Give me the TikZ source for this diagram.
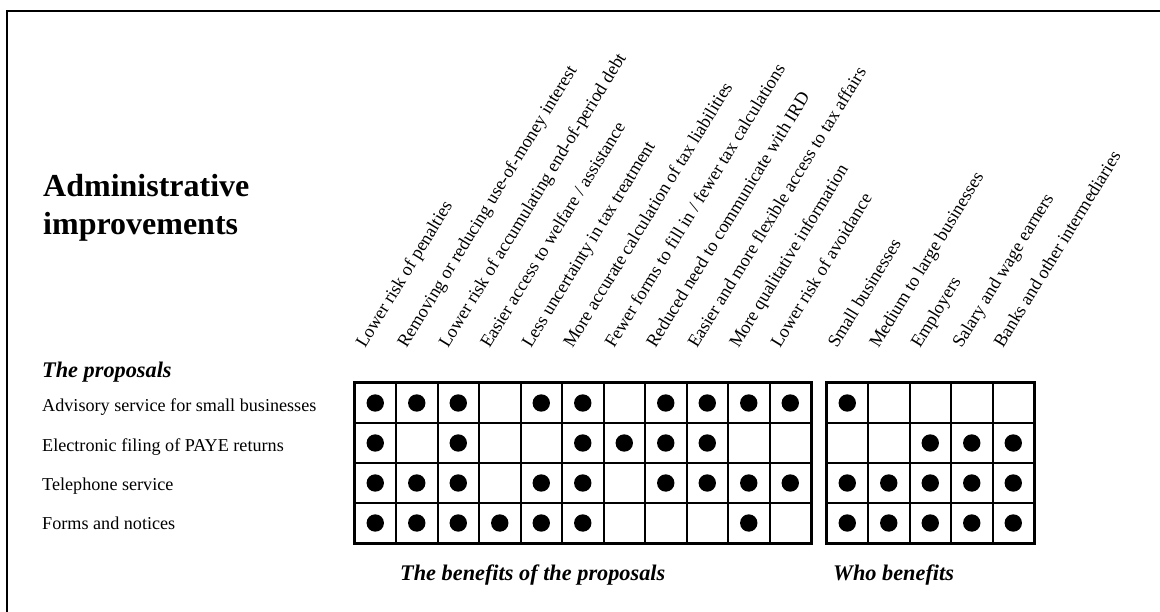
\documentclass[tikz,border=0pt]{standalone}
\usepackage{fontspec}
\setmainfont{Liberation Serif}
\begin{document}
\begin{tikzpicture}[x=1pt,y=-1pt,
  lab/.style={font=\fontsize{18.15}{22}\selectfont, inner sep=0pt, anchor=base west},
  head/.style={font=\fontsize{22.3}{26}\selectfont\bfseries\itshape, inner sep=0pt, anchor=base west},
  titletext/.style={font=\fontsize{32}{38}\selectfont\bfseries, inner sep=0pt, anchor=base west},
  collab/.style={lab, rotate=58.5},
  dotmark/.style={circle, fill=black, minimum size=17.4pt, inner sep=0pt},
  gridouter/.style={line width=3pt},
  gridinner/.style={line width=2pt},
  frameline/.style={line width=2pt}]
\useasboundingbox (0,0) rectangle (1160,612);

% frame (open at right and bottom)
\draw[frameline] (6.5,612) -- (6.5,11) -- (1160,11);

% title
\node[titletext] (title1) at (43,197) {Administrative};
\node[titletext] (title2) at (43,235) {improvements};

% row headings
\node[head] (proposals) at (42,378) {The proposals};
\node[lab] (p1) at (42,412) {Advisory service for small businesses};
\node[lab] (p2) at (42,451) {Electronic filing of PAYE returns};
\node[lab] (p3) at (42,490) {Telephone service};
\node[lab] (p4) at (42,529) {Forms and notices};

% column headings: benefits
\foreach \t [count=\k from 0] in {
  Lower risk of penalties,
  Removing or reducing use-of-money interest,
  Lower risk of accumulating end-of-period debt,
  Easier access to welfare / assistance,
  Less uncertainty in tax treatment,
  More accurate calculation of tax liabilities,
  Fewer forms to fill in / fewer tax calculations,
  Reduced need to communicate with IRD,
  Easier and more flexible access to tax affairs,
  More qualitative information,
  Lower risk of avoidance}
  {\node[collab] (b\k) at (365+41.5*\k,349) {\t};}

% column headings: who benefits
\foreach \t [count=\k from 0] in {
  Small businesses,
  Medium to large businesses,
  Employers,
  Salary and wage earners,
  Banks and other intermediaries}
  {\node[collab] (w\k) at (837+41.5*\k,349) {\t};}

% left grid: 11 columns x 4 rows
\foreach \i in {1,...,10}
  {\draw[gridinner] (354.5+41.5*\i,383) -- (354.5+41.5*\i,543);}
\foreach \j in {1,2,3}
  {\draw[gridinner] (354.5,383+40*\j) -- (811,383+40*\j);}
\draw[gridouter] (354.5,383) rectangle (811,543);

% right grid: 5 columns x 4 rows
\foreach \i in {1,...,4}
  {\draw[gridinner] (826.5+41.5*\i,383) -- (826.5+41.5*\i,543);}
\foreach \j in {1,2,3}
  {\draw[gridinner] (826.5,383+40*\j) -- (1034,383+40*\j);}
\draw[gridouter] (826.5,383) rectangle (1034,543);

% marks: benefits
\foreach \r/\pat in {
  0/{1,1,1,0,1,1,0,1,1,1,1},
  1/{1,0,1,0,0,1,1,1,1,0,0},
  2/{1,1,1,0,1,1,0,1,1,1,1},
  3/{1,1,1,1,1,1,0,0,0,1,0}}
  {\foreach \v [count=\c from 0] in \pat
    {\ifnum\v=1 \node[dotmark] (m-\r-\c) at (375.25+41.5*\c,403+40*\r) {};\fi}}

% marks: who benefits
\foreach \r/\pat in {
  0/{1,0,0,0,0},
  1/{0,0,1,1,1},
  2/{1,1,1,1,1},
  3/{1,1,1,1,1}}
  {\foreach \v [count=\c from 0] in \pat
    {\ifnum\v=1 \node[dotmark] (n-\r-\c) at (847.25+41.5*\c,403+40*\r) {};\fi}}

% captions below the grids
\node[head] (capbenefits) at (400,580) {The benefits of the proposals};
\node[head] (capwho) at (833,580) {Who benefits};
\end{tikzpicture}
\end{document}
